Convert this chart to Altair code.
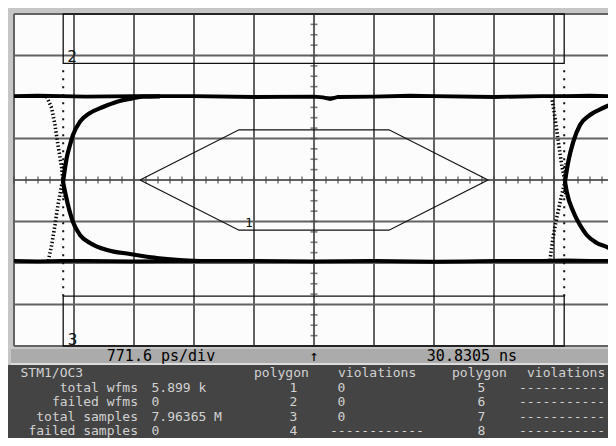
import altair as alt
import pandas as pd

# ---------------- scope grid (divisions) ----------------
X_DIVS = [-5, -4, -3, -2, -1, 0, 1, 2, 3, 4, 5]
Y_DIVS = [-4, -3, -2, -1, 0, 1, 2, 3, 4]
X_MINOR = [round(i * 0.2, 2) for i in range(-25, 26)]
Y_MINOR = [i * 0.25 for i in range(-16, 17)]

# ---------------- eye diagram traces (divisions) ----------------
TOP_X = [-5.0, -4.6, -4.2, -3.8, -3.0, -2.0, -1.0, 0.0, 0.15, 0.27, 0.4, 1.0, 1.6, 2.0, 3.0, 3.8, 4.2, 4.6, 5.0]
TOP_Y = [2.02, 2.03, 2.02, 2.01, 2.02, 2.02, 2.0, 2.01, 1.99, 1.95, 2.0, 2.01, 2.03, 2.02, 2.0, 2.02, 2.02, 2.03, 2.02]
BOT_X = [-5.0, -4.6, -4.2, -3.8, -3.0, -2.0, -1.0, 0.0, 1.0, 2.0, 2.5, 3.0, 3.8, 4.2, 4.6, 5.0]
BOT_Y = [-1.95, -1.96, -1.95, -1.95, -1.96, -1.95, -1.95, -1.96, -1.95, -1.97, -1.96, -1.95, -1.95, -1.94, -1.95, -1.95]

L_RISE_X = [-4.183, -4.122, -4.067, -4.017, -3.9, -3.733, -3.517, -3.283, -3.017, -2.85, -2.567]
L_RISE_Y = [-0.048, 0.53, 0.843, 1.084, 1.405, 1.614, 1.759, 1.887, 1.969, 2.007, 2.017]
L_FALL_X = [-4.183, -4.1, -4.017, -3.9, -3.733, -3.45, -3.067, -2.617, -2.233, -1.9]
L_FALL_Y = [-0.048, -0.602, -1.012, -1.325, -1.518, -1.687, -1.783, -1.88, -1.928, -1.952]
L_SFALL_X = [-4.455, -4.372, -4.317, -4.267, -4.205, -4.183, -4.16]
L_SFALL_Y = [2.007, 1.735, 1.325, 0.843, 0.289, -0.048, -0.4]
L_SRISE_X = [-4.428, -4.372, -4.317, -4.267, -4.205, -4.183, -4.17]
L_SRISE_Y = [-1.945, -1.566, -1.084, -0.602, -0.12, -0.048, 0.4]

R_RISE_X = [4.183, 4.238, 4.322, 4.433, 4.6, 4.817, 5.017]
R_RISE_Y = [-0.041, 0.441, 0.923, 1.325, 1.566, 1.735, 1.855]
R_FALL_X = [4.183, 4.212, 4.322, 4.433, 4.545, 4.712, 4.878, 5.017]
R_FALL_Y = [-0.041, -0.282, -0.764, -1.084, -1.325, -1.518, -1.614, -1.728]
R_SFALL_X = [3.962, 4.017, 4.072, 4.128, 4.183, 4.2]
R_SFALL_Y = [2.007, 1.494, 0.923, 0.361, -0.041, -0.4]
R_SRISE_X = [3.933, 3.983, 4.045, 4.128, 4.183, 4.2]
R_SRISE_Y = [-1.928, -1.398, -0.916, -0.361, -0.041, 0.4]

# crossing markers (dotted)
MARK_X = [-4.18, 4.17]
MARK_Y0 = [-2.8, -2.8]
MARK_Y1 = [2.78, 2.78]

# ---------------- mask polygons ----------------
HEX_X = [-2.9, -1.25, 1.25, 2.9, 1.25, -1.25, -2.9]
HEX_Y = [0.0, 1.21, 1.21, 0.0, -1.21, -1.21, 0.0]
BOX_X0 = [-4.18, -4.18]
BOX_X1 = [4.17, 4.17]
BOX_Y0 = [2.81, -4.0]
BOX_Y1 = [4.0, -2.8]
POLY_LABELS = ["1", "2", "3"]
POLY_LABEL_X = [-1.083, -4.033, -4.025]
POLY_LABEL_Y = [-1.133, 2.855, -3.976]

# ---------------- status bar and readout ----------------
STATUS = ["771.6 ps/div", "\u2191", "30.8305 ns"]
TITLE = "STM1/OC3"
STAT_LABELS = ["total wfms", "failed wfms", "total samples", "failed samples"]
STAT_VALUES = ["5.899 k", "0", "7.96365 M", "0"]
POLY_NUM_A = ["1", "2", "3", "4"]
POLY_VIOL_A = ["0", "0", "0", "------------"]
POLY_NUM_B = ["5", "6", "7", "8"]
POLY_VIOL_B = ["-----------", "-----------", "-----------", "-----------"]

FONT = "DejaVu Sans Mono"
GRID_C = "#626262"
PANEL_TXT = "#d2d2d2"

xs = alt.Scale(domain=[min(X_DIVS), max(X_DIVS)], range=[6, 606], nice=False, zero=False)
ys = alt.Scale(domain=[min(Y_DIVS), max(Y_DIVS)], range=[338, 6], nice=False, zero=False)


def X(f):
    return alt.X(f, scale=xs, axis=None)


def Y(f):
    return alt.Y(f, scale=ys, axis=None)


one = pd.DataFrame({"k": [0]})

# chrome
status_bg = alt.Chart(one).mark_rect(color="#ababab").encode(
    x=alt.value(3), x2=alt.value(606), y=alt.value(341), y2=alt.value(355))
status_line = alt.Chart(one).mark_rect(color="#dcdcdc").encode(
    x=alt.value(3), x2=alt.value(606), y=alt.value(355), y2=alt.value(357))
panel_bg = alt.Chart(one).mark_rect(color="#444444").encode(
    x=alt.value(0), x2=alt.value(600), y=alt.value(357), y2=alt.value(430))

plot_df = pd.DataFrame({"x0": [min(X_DIVS)], "x1": [max(X_DIVS)], "y0": [min(Y_DIVS)], "y1": [max(Y_DIVS)]})
plot_bg = alt.Chart(plot_df).mark_rect(color="#fcfcfc").encode(
    x=X("x0:Q"), x2="x1:Q", y=Y("y0:Q"), y2="y1:Q")

vgrid_df = pd.DataFrame({"x": X_DIVS, "y0": min(Y_DIVS), "y1": max(Y_DIVS)})
hgrid_df = pd.DataFrame({"y": Y_DIVS, "x0": min(X_DIVS), "x1": max(X_DIVS)})
vgrid = alt.Chart(vgrid_df).mark_rule(color=GRID_C, strokeWidth=2).encode(
    x=X("x:Q"), y=Y("y0:Q"), y2="y1:Q")
hgrid = alt.Chart(hgrid_df).mark_rule(color=GRID_C, strokeWidth=2).encode(
    y=Y("y:Q"), x=X("x0:Q"), x2="x1:Q")

xt_df = pd.DataFrame({"x": X_MINOR, "y": 0.0})
yt_df = pd.DataFrame({"y": Y_MINOR, "x": 0.0})
xticks = alt.Chart(xt_df).mark_tick(orient="vertical", size=7, thickness=1.6, color="#444444").encode(
    x=X("x:Q"), y=Y("y:Q"))
yticks = alt.Chart(yt_df).mark_tick(orient="horizontal", size=7, thickness=1.6, color="#444444").encode(
    x=X("x:Q"), y=Y("y:Q"))

# masks
hex_df = pd.DataFrame({"x": HEX_X, "y": HEX_Y, "i": range(len(HEX_X))})
hexagon = alt.Chart(hex_df).mark_line(color="#111111", strokeWidth=1.2).encode(
    x=X("x:Q"), y=Y("y:Q"), order="i:Q")
box_df = pd.DataFrame({"x0": BOX_X0, "x1": BOX_X1, "y0": BOX_Y0, "y1": BOX_Y1})
boxes = alt.Chart(box_df).mark_rect(fillOpacity=0, stroke="#111111", strokeWidth=1.3).encode(
    x=X("x0:Q"), x2="x1:Q", y=Y("y0:Q"), y2="y1:Q")
lab_df = pd.DataFrame({"t": POLY_LABELS, "x": POLY_LABEL_X, "y": POLY_LABEL_Y, "s": [13, 16, 16]})
labels = alt.Chart(lab_df).mark_text(font=FONT, color="#111111", baseline="alphabetic", align="center").encode(
    x=X("x:Q"), y=Y("y:Q"), text="t:N", size=alt.Size("s:Q", scale=None, legend=None))

# markers
mark_df = pd.DataFrame({"x": MARK_X, "y0": MARK_Y0, "y1": MARK_Y1})
markers = alt.Chart(mark_df).mark_rule(color="#111111", strokeWidth=2, strokeDash=[2, 6]).encode(
    x=X("x:Q"), y=Y("y0:Q"), y2="y1:Q")

# traces
rows = []


def add(name, xv, yv, style):
    for i, (a, b) in enumerate(zip(xv, yv)):
        rows.append({"seg": name, "i": i, "x": a, "y": b, "style": style})


add("top", TOP_X, TOP_Y, "level")
add("bot", BOT_X, BOT_Y, "level")
add("lrise", L_RISE_X, L_RISE_Y, "dense")
add("lfall", L_FALL_X, L_FALL_Y, "dense")
add("rrise", R_RISE_X, R_RISE_Y, "dense")
add("rfall", R_FALL_X, R_FALL_Y, "dense")
add("lsf", L_SFALL_X, L_SFALL_Y, "sparse")
add("lsr", L_SRISE_X, L_SRISE_Y, "sparse")
add("rsf", R_SFALL_X, R_SFALL_Y, "sparse")
add("rsr", R_SRISE_X, R_SRISE_Y, "sparse")
tr = pd.DataFrame(rows)

levels = alt.Chart(tr[tr["style"] == "level"]).mark_line(color="#000000", strokeWidth=3.8).encode(
    x=X("x:Q"), y=Y("y:Q"), detail="seg:N", order="i:Q")
dense = alt.Chart(tr[tr["style"] == "dense"]).mark_line(color="#000000", strokeWidth=4.2, interpolate="monotone").encode(
    x=X("x:Q"), y=Y("y:Q"), detail="seg:N", order="i:Q")
sparse = alt.Chart(tr[tr["style"] == "sparse"]).mark_line(color="#000000", strokeWidth=3.6, strokeDash=[1.4, 2.2]).encode(
    x=X("x:Q"), y=Y("y:Q"), detail="seg:N", order="i:Q")

scope = alt.layer(status_bg, status_line, panel_bg, plot_bg, vgrid, hgrid, xticks, yticks,
                  boxes, hexagon, markers, levels, dense, sparse, labels)

# ---------------- status bar text ----------------
st_x = [153, 306, 464]
status_layers = []
for t, px in zip(STATUS, st_x):
    status_layers.append(
        alt.Chart(pd.DataFrame({"t": [t]})).mark_text(font=FONT, fontSize=15, color="#000000", align="center",
                                                      baseline="middle").encode(
            x=alt.value(px), y=alt.value(347.5), text="t:N"))

# ---------------- readout panel ----------------
rowscale = alt.Scale(domain=[0, 4], range=[365, 423], nice=False, zero=False)


def col(texts, rows_, px, align):
    d = pd.DataFrame({"t": texts, "row": rows_})
    return alt.Chart(d).mark_text(font=FONT, fontSize=13, color=PANEL_TXT, align=align, baseline="middle").encode(
        x=alt.value(px), y=alt.Y("row:Q", scale=rowscale, axis=None), text="t:N")


panel = alt.layer(
    *status_layers,
    col([TITLE], [0], 12.5, "left"),
    col(["polygon"], [0], 246, "left"),
    col(["violations"], [0], 330, "left"),
    col(["polygon"], [0], 444, "left"),
    col(["violations"], [0], 519, "left"),
    col(STAT_LABELS, [1, 2, 3, 4], 130, "right"),
    col(STAT_VALUES, [1, 2, 3, 4], 143.5, "left"),
    col(POLY_NUM_A, [1, 2, 3, 4], 285.5, "center"),
    col(POLY_VIOL_A[:3], [1, 2, 3], 333.5, "center"),
    col(POLY_VIOL_A[3:], [4], 322, "left"),
    col(POLY_NUM_B, [1, 2, 3, 4], 473.5, "center"),
    col(POLY_VIOL_B, [1, 2, 3, 4], 511, "left"),
)

chart = alt.layer(scope, panel).resolve_scale(x="independent", y="independent").properties(
    width=600, height=430, padding=0, autosize=alt.AutoSizeParams(type="none"),
    background="#c6c6c6"
).configure_view(strokeWidth=0)

chart.save("out.html", embed_options={"renderer": "svg", "actions": False})
